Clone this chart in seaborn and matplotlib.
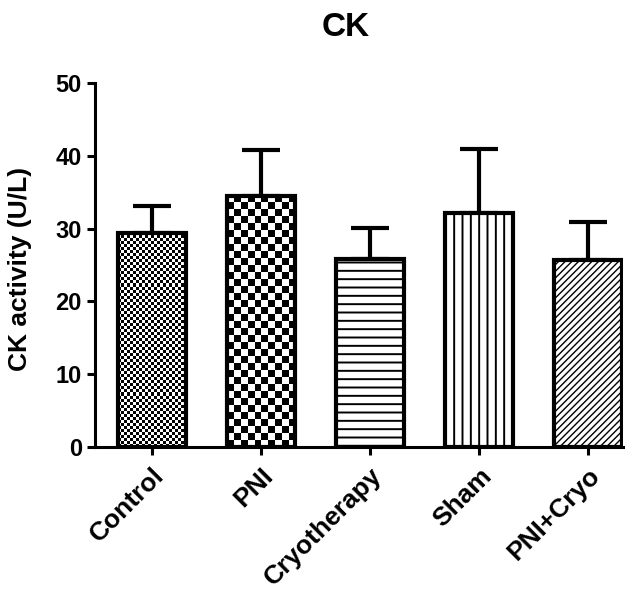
import numpy as np
import matplotlib
matplotlib.use("Agg")
import matplotlib.pyplot as plt
import seaborn as sns

# group summary values (mean and upper error)
groups = ["Control", "PNI", "Cryotherapy", "Sham", "PNI+Cryo"]
ck_mean = [29.4, 34.5, 25.8, 32.1, 25.7]
ck_err = [3.7, 6.3, 4.3, 8.8, 5.2]
y_ticks = [0, 10, 20, 30, 40, 50]

# fill style per bar: checker cell size in px, or a hatch string
fills = [("checker", 3), ("checker", 7), ("hatch", "--"), ("hatch", "||"), ("hatch", "/////")]

sns.set_style("ticks")
plt.rcParams["font.family"] = ["Liberation Sans", "DejaVu Sans"]
plt.rcParams["font.weight"] = "bold"
plt.rcParams["hatch.linewidth"] = 1.4
plt.rcParams["hatch.color"] = "black"
for key in ["text.color", "axes.labelcolor", "xtick.color", "ytick.color", "axes.edgecolor"]:
    plt.rcParams[key] = "black"

fig = plt.figure(figsize=(6.34, 5.98), dpi=100)
ax = fig.add_axes([95 / 634, 151 / 598, 528 / 634, 364 / 598])

sns.barplot(x=groups, y=ck_mean, order=groups, color="white", edgecolor="black",
            linewidth=3, width=0.63, saturation=1, ax=ax, zorder=1)

ax.set_xlim(-0.523, 4.32)
ax.set_ylim(0, 50)
ax.set_yticks(y_ticks)

ax.errorbar(range(len(groups)), ck_mean, yerr=[np.zeros(len(groups)), ck_err],
            fmt="none", ecolor="black", elinewidth=3, capsize=14, capthick=3, zorder=0.5)


def add_checker(ax, patch, cell_px):
    x0, y0 = patch.get_x(), patch.get_y()
    w, h = patch.get_width(), patch.get_height()
    (px0, py0), (px1, py1) = ax.transData.transform([(x0, y0), (x0 + w, y0 + h)])
    ncol = max(1, int(round((px1 - px0) / cell_px)))
    nrow = max(1, int(round((py1 - py0) / cell_px)))
    grid = np.add.outer(np.arange(nrow), np.arange(ncol)) % 2
    ax.imshow(grid, extent=(x0, x0 + w, y0, y0 + h), origin="lower", cmap="gray",
              vmin=0, vmax=1, interpolation="nearest", aspect="auto", zorder=0.9)
    patch.set_facecolor("none")


for patch, (kind, val) in zip(ax.patches, fills):
    if kind == "checker":
        add_checker(ax, patch, val)
    else:
        patch.set_hatch(val)
        if "/" in val and hasattr(patch, "set_hatch_linewidth"):
            patch.set_hatch_linewidth(1.0)

ax.set_xlim(-0.523, 4.32)
ax.set_ylim(0, 50)

sns.despine(ax=ax)
for side in ["left", "bottom"]:
    ax.spines[side].set_linewidth(2.2)
ax.tick_params(axis="both", direction="out", length=6, width=2.2, labelsize=17)
ax.tick_params(axis="x", labelsize=19, pad=6)
plt.setp(ax.get_xticklabels(), rotation=45, ha="right", rotation_mode="anchor", fontweight="bold")
plt.setp(ax.get_yticklabels(), fontweight="bold")

ax.set_ylabel("CK activity (U/L)", fontsize=19, fontweight="bold")
ax.yaxis.set_label_coords(-0.119, 0.49)
fig.text(346 / 634, 1 - 28 / 598, "CK", ha="center", va="center", fontsize=24, fontweight="bold")

fig.savefig("out.png", dpi=100)
